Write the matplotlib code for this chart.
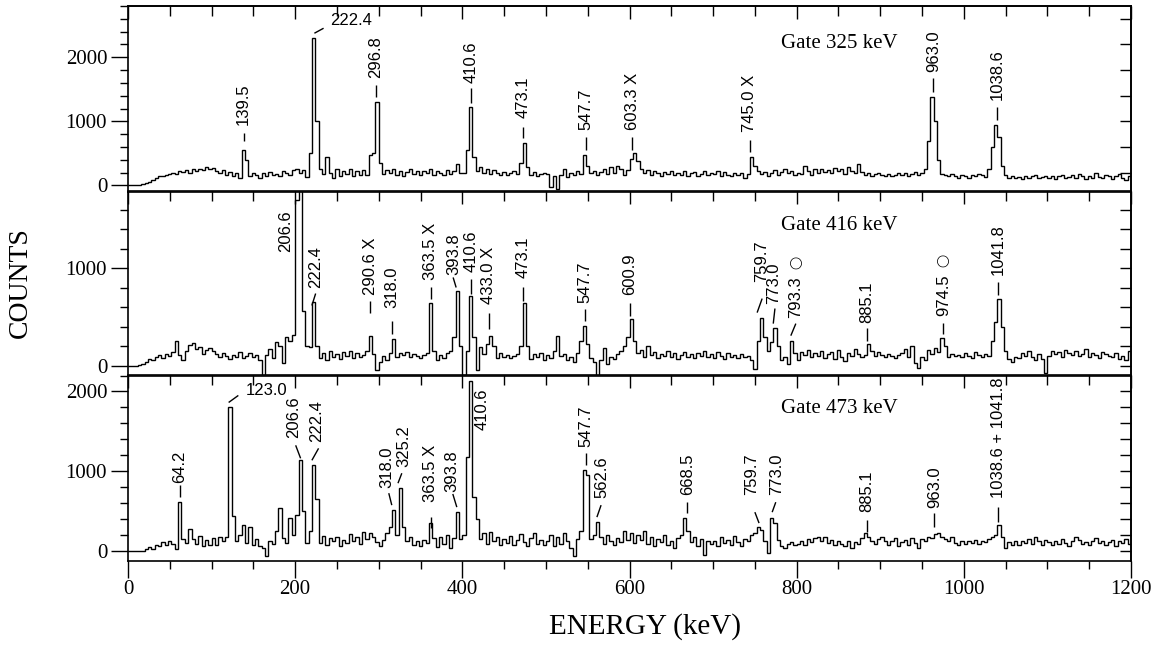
import numpy as np
import matplotlib
matplotlib.use('Agg')
import matplotlib.pyplot as plt
from matplotlib.ticker import MultipleLocator, FixedLocator, NullFormatter

# ---------------- data ----------------
bin_edges_kev = np.arange(0, 1204, 4)   # 300 channels of 4 keV

gate325_counts = [
    0, 0, 0, 5, 15, 30, 50, 80, 110, 140, 150, 160, 175, 200, 185, 230, 210, 240, 200, 250, 230, 260, 240, 280, 250,
    270, 230, 190, 240, 170, 210, 150, 200, 120, 550, 390, 150, 200, 170, 120, 190, 150, 210, 160, 180, 140, 230, 200, 170, 240,
    260, 200, 240, 130, 500, 2300, 1000, 250, 180, 440, 200, 120, 260, 150, 230, 180, 250, 140, 220, 170, 240, 160, 470, 500, 1300,
    350, 180, 240, 200, 260, 170, 230, 150, 210, 250, 180, 230, 160, 220, 190, 250, 170, 230, 200, 160, 240, 180, 220, 340, 190,
    200, 550, 1220, 450, 230, 290, 200, 260, 180, 240, 200, 170, 210, 160, 190, 230, 180, 350, 656, 280, 160, 210, 140, 180, 200,
    180, -20, 150, -50, 170, 250, 130, 190, 160, 220, 180, 470, 300, 190, 230, 160, 210, 250, 180, 280, 200, 300, 260, 170, 240,
    420, 500, 380, 260, 200, 240, 170, 220, 190, 150, 210, 180, 230, 160, 200, 170, 220, 150, 190, 210, 140, 180, 230, 160, 200,
    180, 220, 150, 210, 170, 140, 190, 160, 200, 120, 180, 440, 300, 230, 180, 210, 150, 200, 240, 170, 210, 260, 190, 230, 170,
    200, 180, 310, 230, 170, 250, 200, 260, 210, 240, 190, 270, 220, 250, 180, 290, 230, 200, 340, 210, 170, 190, 150, 180, 200,
    160, 140, 180, 150, 170, 200, 160, 190, 140, 180, 210, 170, 190, 250, 700, 1380, 1000, 400, 180, 160, 140, 180, 150, 120, 170,
    150, 120, 170, 140, 180, 160, 130, 250, 600, 940, 750, 300, 160, 120, 140, 110, 130, 100, 150, 120, 140, 160, 110, 130, 150,
    120, 150, 100, 140, 170, 110, 130, 160, 120, 180, 140, 100, 150, 120, 190, 130, 110, 160, 140, 100, 150, 180, 120, 90, 140,
]

gate416_counts = [
    0, 0, 0, 5, 20, 40, 70, 60, 90, 110, 80, 120, 100, 140, 250, 110, 60, 150, 210, 230, 170, 190, 120, 160, 180,
    150, 120, 90, 130, 100, 70, 110, 90, 140, 80, 100, 130, 90, 110, 60, -150, 110, 170, 80, 240, 200, 30, 300, 250, 320,
    1700, 2500, 560, 200, 190, 650, 200, 80, 130, 60, 150, 90, 120, 70, 140, 100, 150, 80, 130, 90, 110, 150, 310, 120, -40,
    40, 100, 60, 130, 276, 90, 130, 110, 140, 90, 120, 100, 80, 110, 130, 640, 150, 60, 110, 80, 130, 150, 300, 773, 200,
    -90, 150, 720, 300, -40, 190, 120, 220, 310, 200, 80, 130, 90, 110, 80, 100, 120, 200, 640, 200, 70, 120, 90, 130, 60,
    110, 80, 150, 310, 100, 120, 60, 90, 40, 130, 250, 412, 220, 80, 40, -100, 60, 180, 20, 90, 70, 120, 150, 200, 300,
    485, 250, 130, 160, 90, 200, 110, 140, 80, 120, 100, 150, 90, 130, 70, 110, 140, 90, 120, 80, 130, 100, 150, 90, 120,
    80, 140, 100, 70, 130, 90, 110, 80, 120, 90, 100, 60, -30, 250, 495, 300, 150, 240, 392, 200, 60, 90, 20, 258, 130,
    60, 140, 110, 160, 90, 130, 100, 150, 80, 120, 140, 70, 160, 90, 50, 130, 100, 170, 120, 90, 110, 227, 150, 100, 140,
    110, 90, 120, 100, 80, 110, 130, 170, 90, 200, 30, -20, 90, 60, 160, 120, 180, 140, 289, 200, 90, 120, 100, 110, 90,
    130, 100, 80, 140, 110, 90, 120, 100, 250, 450, 690, 400, 150, 70, 40, 90, 80, 130, 100, 150, 90, 60, 120, 70, -70,
    100, 150, 120, 140, 90, 160, 130, 110, 150, 100, 120, 170, 90, 130, 110, 80, 140, 120, 100, 90, 130, 70, 100, 60, 150,
]

gate473_counts = [
    0, 0, 0, 0, 5, 20, 50, 30, 80, 60, 110, 70, 120, 90, 20, 612, 150, 100, 270, 150, 90, 190, 60, 140, 80,
    160, 70, 180, 130, 180, 1800, 440, 120, 200, 320, 100, 300, 80, 150, 60, 40, -60, 120, 90, 250, 537, 160, 100, 412, 200,
    450, 1137, 500, 100, 250, 1075, 650, 100, 190, 80, 160, 120, 170, 60, 140, 100, 210, 130, 180, 90, 240, 150, 220, 170, 110,
    60, 140, 220, 300, 512, 200, 787, 300, 120, 170, 80, 130, 60, 140, 100, 350, 160, 50, 180, 90, 200, 40, 160, 487, 150,
    200, 1175, 2137, 675, 400, 150, 220, 90, 240, 120, 180, 70, 150, 100, 190, 80, 140, 210, 110, 60, 160, 230, 90, 140, 70,
    130, 200, 60, 170, 90, 220, 120, 40, -60, 150, 250, 1012, 950, 150, 200, 362, 170, 90, 200, 130, 80, 160, 110, 250, 140,
    230, 100, 200, 140, 250, 90, 180, 60, 150, 110, 200, 70, 130, 40, 160, 200, 412, 250, 110, 180, 60, 150, -50, 130, 90,
    120, 60, 170, 100, 140, 80, 190, 110, 60, 150, 120, 200, 220, 300, 260, 120, -30, 412, 350, 140, 60, 40, 90, 110, 70,
    90, 130, 70, 150, 110, 160, 180, 130, 170, 100, 140, 80, 120, 90, 60, 130, 40, 110, 90, 160, 225, 180, 130, 90, 150,
    180, 120, 80, 130, 160, 60, 110, 140, 70, 160, 100, 40, 150, 130, 180, 160, 210, 225, 180, 150, 120, 170, 100, 80, 130,
    90, 120, 100, 140, 90, 130, 110, 150, 170, 200, 325, 180, 40, 110, 80, 120, 70, 130, 100, 150, 90, 180, 120, 80, 140,
    110, 70, 130, 90, 150, 100, 60, 120, 180, 140, 90, 110, 70, 130, 160, 100, 120, 80, 110, 140, 60, 130, 100, 150, 90,
]

gate_titles = ["Gate 325 keV", "Gate 416 keV", "Gate 473 keV"]
x_tick_labels = ["0", "200", "400", "600", "800", "1000", "1200"]
y_tick_labels = [["0", "1000", "2000"], ["0", "1000"], ["0", "1000", "2000"]]
circle_mark = "\u25EF"

# peak labels: text, text x, text y (bottom / centre), marker line (x0, y0, x1, y1) or None, orientation
# orientation: 'v' rotated, 'h' horizontal, 'vo' rotated followed by an open circle
gate325_labels = [
    ("139.5", 138.3, 937, (138.3, 690, 138.3, 812), 'v'),
    ("222.4", 242, 2578, (223, 2375, 234, 2453), 'h'),
    ("296.8", 296.4, 1672, (296.4, 1375, 296.4, 1562), 'v'),
    ("410.6", 410.2, 1594, (410.2, 1281, 410.2, 1516), 'v'),
    ("473.1", 472.5, 1047, (472.5, 734, 472.5, 906), 'v'),
    ("547.7", 548, 859, (548, 547, 548, 750), 'v'),
    ("603.3 X", 603, 859, (603, 547, 603, 750), 'v'),
    ("745.0 X", 744, 828, (744, 516, 744, 703), 'v'),
    ("963.0", 963.5, 1766, (963.5, 1453, 963.5, 1672), 'v'),
    ("1038.6", 1040, 1328, (1040, 1016, 1040, 1219), 'v'),
]
gate416_labels = [
    ("206.6", 188.6, 1165, None, 'v'),
    ("222.4", 224.5, 794, (220, 619, 224.5, 742), 'v'),
    ("290.6 X", 290, 722, (290, 546, 290, 670), 'v'),
    ("318.0", 316, 598, (316, 330, 316, 464), 'v'),
    ("363.5 X", 362, 876, (362, 690, 362, 804), 'v'),
    ("393.8", 389.8, 928, (392.6, 804, 389, 907), 'v'),
    ("410.6", 410, 959, (410, 742, 410, 887), 'v'),
    ("433.0 X", 431.7, 639, (431.7, 381, 431.7, 546), 'v'),
    ("473.1", 472.5, 897, (472.5, 670, 472.5, 804), 'v'),
    ("547.7", 546.7, 649, (546.7, 464, 546.7, 588), 'v'),
    ("600.9", 600.6, 722, (600.6, 515, 600.6, 649), 'v'),
    ("759.7", 757.5, 856, (752.7, 546, 758.7, 690), 'v'),
    ("773.0", 773, 639, (772, 433, 774, 588), 'v'),
    ("793.3", 799, 495, (793, 309, 799, 433), 'vo'),
    ("885.1", 884.4, 443, (884.4, 258, 884.4, 392), 'v'),
    ("974.5", 975.4, 515, (975.4, 330, 975.4, 443), 'vo'),
    ("1041.8", 1041, 928, (1041, 722, 1041, 856), 'v'),
]
gate473_labels = [
    ("64.2", 61.7, 850, (61.7, 675, 61.7, 825), 'v'),
    ("123.0", 140.7, 2012, (120.4, 1862, 132, 1950), 'h'),
    ("206.6", 198, 1412, (206.5, 1162, 200.6, 1325), 'v'),
    ("222.4", 225.7, 1362, (220, 1137, 228, 1287), 'v'),
    ("318.0", 309.8, 787, (315.6, 575, 312, 725), 'v'),
    ("325.2", 330, 1050, (323, 850, 327.6, 975), 'v'),
    ("363.5 X", 362, 612, (362, 287, 362, 425), 'v'),
    ("393.8", 387.4, 737, (393.4, 550, 388.6, 715), 'v'),
    ("410.6", 424, 1512, None, 'v'),
    ("547.7", 548, 1300, (548, 1075, 548, 1225), 'v'),
    ("562.6", 567, 662, (561, 425, 566, 575), 'v'),
    ("668.5", 669, 700, (669, 475, 669, 612), 'v'),
    ("759.7", 746.7, 700, (755, 350, 750, 487), 'v'),
    ("773.0", 776.6, 700, (770.7, 487, 775, 612), 'v'),
    ("885.1", 884.4, 487, (884.4, 237, 884.4, 387), 'v'),
    ("963.0", 964.7, 537, (964.7, 300, 964.7, 475), 'v'),
    ("1038.6 + 1041.8", 1041, 662, (1041, 362, 1041, 550), 'v'),
]

# ---------------- layout / style ----------------
W, H = 1157, 645
fig = plt.figure(figsize=(W / 100, H / 100), dpi=100)
SERIF = 'Liberation Serif'
SANS = ['Liberation Sans', 'DejaVu Sans']

left_px, right_px = 128, 1131
panel_px = [(6, 191.5), (191.5, 375.5), (375.5, 561)]
ylims = [(-95, 2800), (-100, 1790), (-125, 2200)]
right_ticks = [list(range(200, 2800, 400)), list(range(0, 1790, 200)), list(range(0, 2200, 200))]
title_y = [2220, 1443, 1787]

spectra = [gate325_counts, gate416_counts, gate473_counts]
labels = [gate325_labels, gate416_labels, gate473_labels]

for i in range(3):
    t, b = panel_px[i]
    ax = fig.add_axes([left_px / W, 1 - b / H, (right_px - left_px) / W, (b - t) / H])
    ax.stairs(spectra[i], bin_edges_kev, color='black', linewidth=1.0, baseline=None)
    ax.set_xlim(0, 1200)
    ax.set_ylim(*ylims[i])
    for sp in ax.spines.values():
        sp.set_linewidth(1.2)

    # x ticks
    ax.xaxis.set_major_locator(MultipleLocator(200))
    ax.xaxis.set_minor_locator(MultipleLocator(50))
    if i == 2:
        ax.tick_params(axis='x', which='major', direction='out', length=12, width=1.0,
                       top=False, bottom=True, pad=2)
        ax.tick_params(axis='x', which='minor', direction='out', length=6, width=1.0,
                       top=False, bottom=True)
        ax.set_xticks(np.arange(0, 1201, 200))
        ax.set_xticklabels(x_tick_labels, fontfamily=SERIF, fontsize=15)
    else:
        ax.tick_params(axis='x', which='both', bottom=False, top=False, labelbottom=False)
    sx = ax.secondary_xaxis('top')
    sx.xaxis.set_major_locator(MultipleLocator(200))
    sx.xaxis.set_minor_locator(MultipleLocator(50))
    sx.xaxis.set_major_formatter(NullFormatter())
    sx.tick_params(axis='x', which='major', direction='in', length=9, width=1.0)
    sx.tick_params(axis='x', which='minor', direction='in', length=7, width=1.0)
    sx.spines['top'].set_linewidth(1.2)

    # y ticks
    yt = [int(s) for s in y_tick_labels[i]]
    ax.set_yticks(yt)
    ax.set_yticklabels(y_tick_labels[i], fontfamily=SERIF, fontsize=15)
    ax.yaxis.set_minor_locator(MultipleLocator(200))
    ax.tick_params(axis='y', which='major', direction='out', length=12, width=1.0, pad=3, right=False)
    ax.tick_params(axis='y', which='minor', direction='out', length=6, width=1.0, right=False)
    sy = ax.secondary_yaxis('right')
    sy.yaxis.set_major_locator(FixedLocator(right_ticks[i]))
    sy.yaxis.set_major_formatter(NullFormatter())
    sy.tick_params(axis='y', which='major', direction='in', length=8, width=1.0)
    sy.spines['right'].set_linewidth(1.2)

    # gate title
    ax.text(781, title_y[i], gate_titles[i], fontfamily=SERIF, fontsize=15,
            ha='left', va='center')

    # peak labels
    for txt, x, y, line, orient in labels[i]:
        if orient in ('v', 'vo'):
            ax.text(x, y, txt, rotation=90, ha='center', va='bottom',
                    fontfamily=SANS, fontsize=12)
            if orient == 'vo':
                ax.annotate(circle_mark, xy=(x, y), xytext=(0, 35), textcoords='offset points',
                            rotation=90, ha='center', va='bottom',
                            fontfamily='DejaVu Sans', fontsize=8.5)
        else:
            ax.text(x, y, txt, ha='left', va='center', fontfamily=SANS, fontsize=12)
        if line is not None:
            ax.plot([line[0], line[2]], [line[1], line[3]], color='black', linewidth=1.0,
                    solid_capstyle='butt')

fig.text(20 / W, 1 - 283 / H, "COUNTS", rotation=90, ha='center', va='center',
         fontfamily=SERIF, fontsize=20)
fig.text(645 / W, 1 - 627 / H, "ENERGY (keV)", ha='center', va='center',
         fontfamily=SERIF, fontsize=21)

fig.savefig('out.png', dpi=100)
